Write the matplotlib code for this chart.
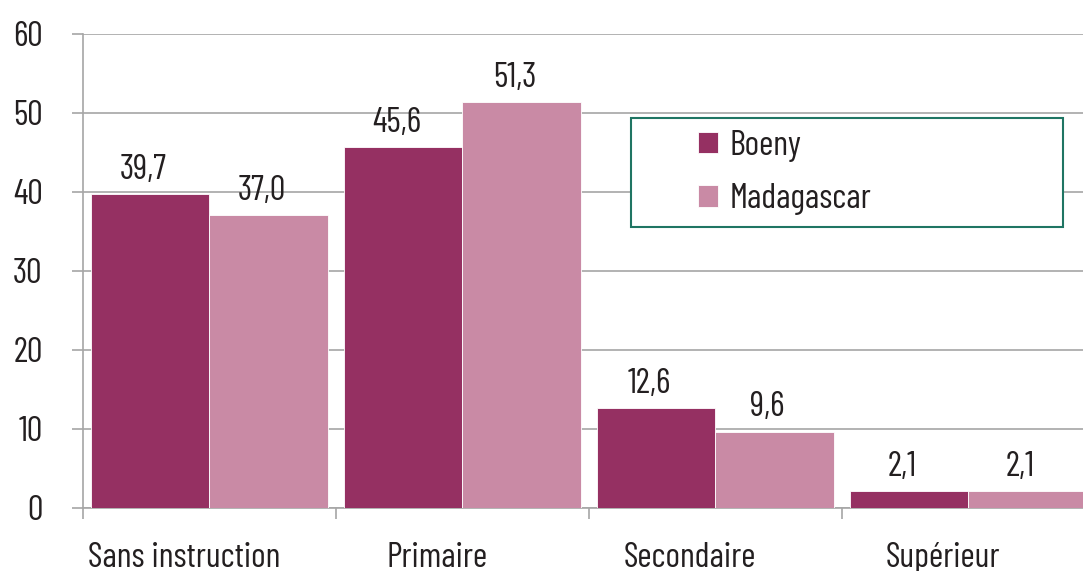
#!/usr/bin/env python3
"""Niveau d'instruction : Boeny vs Madagascar."""

import matplotlib

matplotlib.use("Agg")
import matplotlib.pyplot as plt
import numpy as np
from matplotlib.patches import Rectangle

categories = ["Sans instruction", "Primaire", "Secondaire", "Supérieur"]
series_names = ["Boeny", "Madagascar"]
boeny = [39.7, 45.6, 12.6, 2.1]
madagascar = [37.0, 51.3, 9.6, 2.1]
y_ticks = [0, 10, 20, 30, 40, 50, 60]

COLORS = ["#953062", "#C98AA5"]
GRID = "#A6A6A6"
TEXT = "#231F20"
FS = 25

plt.rcParams["font.family"] = ["Barlow Condensed", "DejaVu Sans"]

fig = plt.figure(figsize=(10.83, 5.71), dpi=100)
ax = fig.add_axes([0.0766, 0.1112, 0.9344, 0.8298])

x = np.arange(len(categories))
width = 0.4675
for i, (vals, name) in enumerate(zip([boeny, madagascar], series_names)):
    pos = x - width / 2 + i * width
    bars = ax.bar(pos, vals, width=width, color=COLORS[i], label=name,
                  edgecolor="white", linewidth=0.6, zorder=3)
    for rect, v in zip(bars, vals):
        ax.annotate(f"{v:.1f}".replace(".", ","),
                    (rect.get_x() + rect.get_width() / 2, v),
                    xytext=(-5, 6), textcoords="offset points",
                    ha="center", va="bottom", fontsize=FS, color=TEXT)

ax.set_xlim(-0.5, len(categories) - 0.5)
ax.set_ylim(0, 60)
ax.set_yticks(y_ticks)
ax.set_yticklabels([str(t) for t in y_ticks], fontsize=FS, color=TEXT)
ax.yaxis.grid(True, color=GRID, linewidth=1.2, zorder=0)
ax.tick_params(axis="y", length=8, width=1.2, color=GRID, pad=21)

ax.set_xticks(np.arange(len(categories) + 1) - 0.5)
ax.set_xticklabels([])
ax.tick_params(axis="x", length=8, width=1.2, color=GRID)
for i, cat in enumerate(categories):
    ax.text(x[i] - 0.1, -0.072, cat, transform=ax.get_xaxis_transform(),
            ha="center", va="top", fontsize=FS, color=TEXT)

for side in ["top", "right"]:
    ax.spines[side].set_visible(False)
for side in ["left", "bottom"]:
    ax.spines[side].set_color(GRID)
    ax.spines[side].set_linewidth(1.2)

ax.add_patch(Rectangle((0.5415, 0.592), 0.4269, 0.230, transform=ax.transAxes,
                       facecolor="white", edgecolor="#1F7563", linewidth=1.5,
                       zorder=5, clip_on=False))
leg = ax.legend(loc="center left", bbox_to_anchor=(0.5905, 0.707), frameon=False,
                fontsize=FS, handlelength=0.58, handleheight=0.58,
                handletextpad=0.34, labelspacing=0.62, borderpad=0)
leg.set_zorder(6)
for t in leg.get_texts():
    t.set_color(TEXT)

fig.savefig("out.png", dpi=100)
